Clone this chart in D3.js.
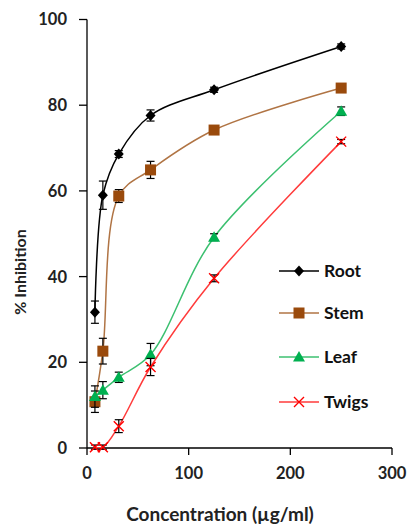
<!DOCTYPE html>
<html><head><meta charset="utf-8">
<script src="https://cdn.jsdelivr.net/npm/d3@7"></script>
<style>body{margin:0;background:#fff}svg{display:block}text{font-family:Lato,"Open Sans",sans-serif;font-weight:bold}</style>
</head><body><svg id="c" width="409" height="527"></svg>
<script>
const conc = [7.8, 15.6, 31.25, 62.5, 125, 250];
const seriesNames = ["Root", "Stem", "Leaf", "Twigs"];
const rootVals = [31.7, 59.0, 68.6, 77.6, 83.6, 93.7];
const rootErr = [2.6, 3.3, 0.8, 1.3, 0.6, 0.6];
const stemVals = [10.8, 22.6, 58.8, 64.9, 74.2, 84.0];
const stemErr = [2.5, 3.0, 1.5, 2.0, 0.6, 0.6];
const leafVals = [12.0, 13.5, 16.5, 21.8, 49.2, 78.6];
const leafErr = [2.5, 2.0, 1.2, 2.6, 0.8, 1.0];
const twigVals = [0.2, 0.2, 5.1, 18.9, 39.6, 71.5];
const twigErr = [0.5, 0.5, 1.5, 2.0, 0.8, 0.5];
const xTicks = [0, 100, 200, 300];
const yTicks = [0, 20, 40, 60, 80, 100];

const svg = d3.select("#c");
const x = d3.scaleLinear().domain([0, 300]).range([87, 392]);
const y = d3.scaleLinear().domain([0, 100]).range([448, 19.5]);

const series = [
  {name: seriesNames[0], vals: rootVals, err: rootErr, line: "#000000", fill: "#000000", sym: "diamond"},
  {name: seriesNames[1], vals: stemVals, err: stemErr, line: "#B07444", fill: "#9A4A0C", sym: "square"},
  {name: seriesNames[2], vals: leafVals, err: leafErr, line: "#3CC070", fill: "#00B050", sym: "triangle"},
  {name: seriesNames[3], vals: twigVals, err: twigErr, line: "#FF3B3B", fill: "#FF0000", sym: "x"}
];

// axes
const ax = svg.append("g");
ax.append("line").attr("x1", x(0)).attr("x2", x(300)).attr("y1", y(0)).attr("y2", y(0)).attr("stroke", "#000").attr("stroke-width", 1.3);
ax.append("line").attr("x1", x(0)).attr("x2", x(0)).attr("y1", y(0)).attr("y2", y(100)).attr("stroke", "#000").attr("stroke-width", 1.3);
yTicks.forEach(t => {
  ax.append("line").attr("x1", x(0) - 8).attr("x2", x(0)).attr("y1", y(t)).attr("y2", y(t)).attr("stroke", "#000").attr("stroke-width", 1.3);
  ax.append("text").attr("x", 67).attr("y", y(t)).attr("dy", "0.36em").attr("text-anchor", "end").attr("font-size", 16.5).attr("fill", "#222").text(t);
});
xTicks.forEach(t => {
  ax.append("line").attr("x1", x(t)).attr("x2", x(t)).attr("y1", y(0)).attr("y2", y(0)).attr("y2", y(0) + 7).attr("stroke", "#000").attr("stroke-width", 1.3);
  ax.append("text").attr("x", x(t)).attr("y", 479).attr("text-anchor", "middle").attr("font-size", 16.5).attr("fill", "#222").text(t);
});
svg.append("text").attr("x", 220).attr("y", 521).attr("text-anchor", "middle").attr("font-size", 19).attr("fill", "#222").text("Concentration (µg/ml)");
svg.append("text").attr("transform", "translate(26,272) rotate(-90)").attr("text-anchor", "middle").attr("font-size", 16).attr("fill", "#222").text("% Inhibition");

function marker(g, s, cx, cy) {
  if (s.sym === "diamond") {
    g.append("path").attr("d", `M${cx},${cy-5.5}L${cx+5},${cy}L${cx},${cy+5.5}L${cx-5},${cy}Z`).attr("fill", s.fill);
  } else if (s.sym === "square") {
    g.append("rect").attr("x", cx - 5.5).attr("y", cy - 5.5).attr("width", 11).attr("height", 11).attr("fill", s.fill);
  } else if (s.sym === "triangle") {
    g.append("path").attr("d", `M${cx},${cy-6}L${cx+6},${cy+4.5}L${cx-6},${cy+4.5}Z`).attr("fill", s.fill);
  } else {
    g.append("path").attr("d", `M${cx-5},${cy-5}L${cx+5},${cy+5}M${cx-5},${cy+5}L${cx+5},${cy-5}`).attr("stroke", s.fill).attr("stroke-width", 1.4).attr("fill", "none");
  }
}

const lineGen = d3.line().x(d => x(d[0])).y(d => y(d[1])).curve(d3.curveCatmullRom.alpha(0.5));
series.forEach(s => {
  const g = svg.append("g");
  const pts = conc.map((c, i) => [c, s.vals[i]]);
  g.append("path").attr("d", lineGen(pts)).attr("fill", "none").attr("stroke", s.line).attr("stroke-width", 1.5);
  pts.forEach((p, i) => {
    const cx = x(p[0]), y1 = y(p[1] + s.err[i]), y2 = y(p[1] - s.err[i]);
    g.append("line").attr("x1", cx).attr("x2", cx).attr("y1", y1).attr("y2", y2).attr("stroke", "#000").attr("stroke-width", 1.2);
    g.append("line").attr("x1", cx - 4).attr("x2", cx + 4).attr("y1", y1).attr("y2", y1).attr("stroke", "#000").attr("stroke-width", 1.2);
    g.append("line").attr("x1", cx - 4).attr("x2", cx + 4).attr("y1", y2).attr("y2", y2).attr("stroke", "#000").attr("stroke-width", 1.2);
  });
  pts.forEach(p => marker(g, s, x(p[0]), y(p[1])));
});

// legend
const legY = [271, 313, 357, 402];
series.forEach((s, i) => {
  const g = svg.append("g");
  g.append("line").attr("x1", 279).attr("x2", 319).attr("y1", legY[i]).attr("y2", legY[i]).attr("stroke", s.line).attr("stroke-width", 1.5);
  marker(g, s, 299, legY[i]);
  g.append("text").attr("x", 324).attr("y", legY[i]).attr("dy", "0.36em").attr("font-size", 17.5).attr("fill", "#111").text(s.name);
});
</script></body></html>
